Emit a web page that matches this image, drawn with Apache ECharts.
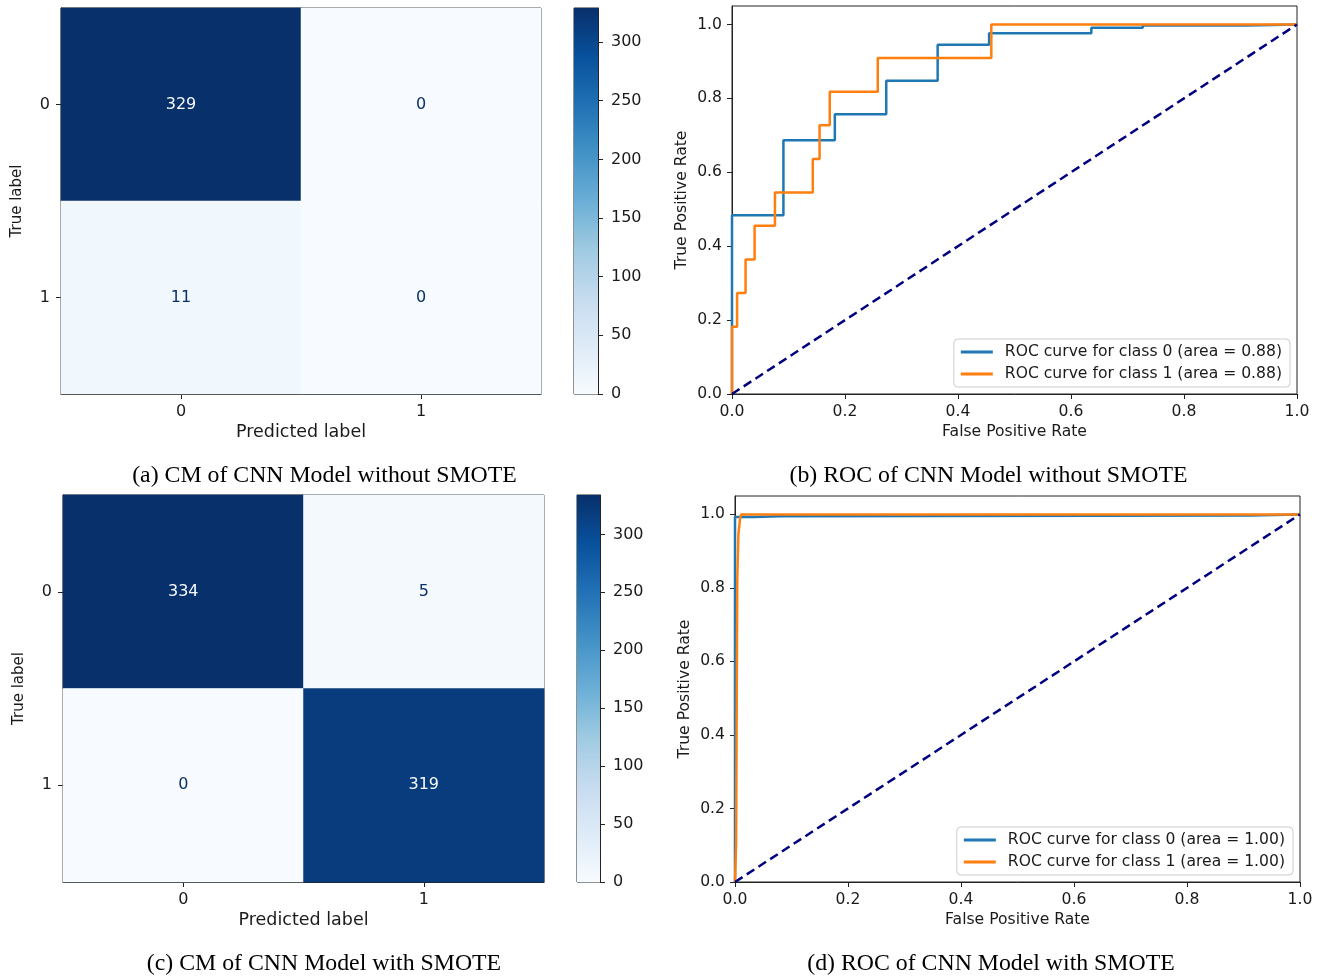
<!DOCTYPE html>
<html><head><meta charset="utf-8">
<script src="https://cdn.jsdelivr.net/npm/echarts@6/dist/echarts.min.js"></script>
<style>html,body{margin:0;padding:0;background:#fff}#c{width:1324px;height:980px}</style>
</head><body><div id="c"></div>
<script>
// ---------- data ----------
const cmLabels = ['0', '1'];
const cmA = [[329, 0], [11, 0]];
const cmC = [[334, 5], [0, 319]];
const cbTicks = [0, 50, 100, 150, 200, 250, 300];
const rocTicks = [0, 0.2, 0.4, 0.6, 0.8, 1.0];

// (b) ROC without SMOTE
const fprB0 = [0, 0, 0.091, 0.091, 0.182, 0.182, 0.273, 0.273, 0.364, 0.364, 0.455, 0.455, 0.636, 0.636, 0.727, 0.727, 0.909, 0.909, 1.0];
const tprB0 = [0, 0.484, 0.484, 0.687, 0.687, 0.757, 0.757, 0.848, 0.848, 0.945, 0.945, 0.976, 0.976, 0.991, 0.991, 0.997, 0.997, 1.0, 1.0];
const fprB1 = [0, 0, 0.009, 0.009, 0.024, 0.024, 0.040, 0.040, 0.076, 0.076, 0.143, 0.143, 0.155, 0.155, 0.173, 0.173, 0.258, 0.258, 0.459, 0.459, 1.0];
const tprB1 = [0, 0.182, 0.182, 0.273, 0.273, 0.364, 0.364, 0.455, 0.455, 0.545, 0.545, 0.636, 0.636, 0.727, 0.727, 0.818, 0.818, 0.909, 0.909, 1.0, 1.0];
// (d) ROC with SMOTE
const fprD0 = [0, 0, 0.034, 0.034, 0.078, 0.078, 0.91, 0.91, 1.0];
const tprD0 = [0, 0.993, 0.993, 0.995, 0.995, 0.997, 0.997, 1.0, 1.0];
const fprD1 = [0, 0.002, 0.002, 0.004, 0.004, 0.006, 0.006, 0.009, 0.009, 0.011, 0.011, 1.0];
const tprD1 = [0, 0, 0.105, 0.105, 0.82, 0.82, 0.945, 0.945, 0.99, 0.99, 1.0, 1.0];
const chance = [0, 1];

const legendB = ['ROC curve for class 0 (area = 0.88)', 'ROC curve for class 1 (area = 0.88)'];
const legendD = ['ROC curve for class 0 (area = 1.00)', 'ROC curve for class 1 (area = 1.00)'];

const captions = ['(a) CM of CNN Model without SMOTE', '(b) ROC of CNN Model without SMOTE',
                  '(c) CM of CNN Model with SMOTE', '(d) ROC of CNN Model with SMOTE'];

const blues = ['#f7fbff', '#deebf7', '#c6dbef', '#9ecae1', '#6baed6', '#4292c6', '#2171b5', '#08519c', '#08306b'];

// ---------- helpers ----------
const FONT = 'DejaVu Sans';
const TXT = '#1a1a1a';
const AX = '#222';

function zip(a, b) { return a.map((v, i) => [v, b[i]]); }
function maxOf(m) { return Math.max(...m.flat()); }
function cmData(m) {
  const mx = maxOf(m), mn = Math.min(...m.flat());
  const out = [];
  m.forEach((row, r) => row.forEach((v, c) => {
    out.push({ value: [c, r, v], label: { color: v > (mx + mn) / 2 ? blues[0] : blues[8] } });
  }));
  return out;
}
const cmTick = { fontFamily: FONT, fontSize: 16, color: TXT };
const cmName = { fontFamily: FONT, fontSize: 17.5, color: TXT };
const cmNameY = { fontFamily: FONT, fontSize: 15, color: TXT };
const rocTxt = { fontFamily: FONT, fontSize: 15.6, color: TXT };
const axisLine = { show: true, lineStyle: { color: AX, width: 1 } };
const axisTick = { show: true, length: 5, lineStyle: { color: AX } };

const grids = [
  { left: 61, top: 8, width: 480, height: 386, show: true, borderColor: AX, borderWidth: 1 },   // a
  { left: 574, top: 8, width: 24, height: 386, show: true, borderColor: AX, borderWidth: 1 },   // a cb
  { left: 63, top: 495, width: 481, height: 387, show: true, borderColor: AX, borderWidth: 1 }, // c
  { left: 577, top: 495, width: 23, height: 387, show: true, borderColor: AX, borderWidth: 1 }, // c cb
  { left: 732, top: 6, width: 565, height: 388, show: true, borderColor: AX, borderWidth: 1 },  // b
  { left: 735, top: 496, width: 565, height: 386, show: true, borderColor: AX, borderWidth: 1 } // d
];

function cmX(gi) {
  return { type: 'category', gridIndex: gi, data: cmLabels, axisLine, axisTick: Object.assign({ alignWithLabel: true }, axisTick),
    axisLabel: Object.assign({ margin: 10 }, cmTick), splitLine: { show: false },
    name: 'Predicted label', nameLocation: 'middle', nameGap: 29, nameTextStyle: cmName };
}
function cmY(gi) {
  return { type: 'category', gridIndex: gi, data: cmLabels, inverse: true, axisLine, axisTick: Object.assign({ alignWithLabel: true }, axisTick),
    axisLabel: Object.assign({ margin: 11 }, cmTick), splitLine: { show: false },
    name: 'True label', nameLocation: 'middle', nameGap: 36, nameTextStyle: cmNameY };
}
function cbX(gi) { return { type: 'category', gridIndex: gi, data: [''], show: false }; }
function cbY(gi, mx) {
  return { type: 'value', gridIndex: gi, min: 0, max: mx, position: 'right', axisLine,
    axisTick: Object.assign({ customValues: cbTicks }, axisTick),
    axisLabel: Object.assign({ margin: 13, customValues: cbTicks }, cmTick), splitLine: { show: false } };
}
function rocX(gi) {
  return { type: 'value', gridIndex: gi, min: 0, max: 1, axisLine: Object.assign({ onZero: false }, axisLine),
    axisTick: Object.assign({ customValues: rocTicks }, axisTick),
    axisLabel: Object.assign({ margin: 10, customValues: rocTicks, formatter: v => v.toFixed(1) }, rocTxt),
    splitLine: { show: false },
    name: 'False Positive Rate', nameLocation: 'middle', nameGap: 30, nameTextStyle: rocTxt };
}
function rocY(gi) {
  return { type: 'value', gridIndex: gi, min: 0, max: 1.05, axisLine: Object.assign({ onZero: false }, axisLine),
    axisTick: Object.assign({ customValues: rocTicks }, axisTick),
    axisLabel: Object.assign({ margin: 10, customValues: rocTicks, formatter: v => v.toFixed(1) }, rocTxt),
    splitLine: { show: false },
    name: 'True Positive Rate', nameLocation: 'middle', nameGap: 42, nameTextStyle: rocTxt };
}
function gradient() {
  return new echarts.graphic.LinearGradient(0, 1, 0, 0, blues.map((c, i) => ({ offset: i / (blues.length - 1), color: c })));
}
function heat(gi, m) {
  return { type: 'heatmap', xAxisIndex: gi, yAxisIndex: gi, data: cmData(m),
    label: { show: true, fontFamily: FONT, fontSize: 16, formatter: p => String(p.value[2]) },
    emphasis: { disabled: true } };
}
function cbar(gi, mx) {
  return { type: 'bar', xAxisIndex: gi, yAxisIndex: gi, data: [mx], barWidth: '100%', silent: true,
    itemStyle: { color: gradient() } };
}
function rocLine(gi, name, xs, ys, color) {
  return { type: 'line', name, xAxisIndex: gi, yAxisIndex: gi, data: zip(xs, ys), symbol: 'none', showSymbol: false,
    lineStyle: { color, width: 2.5 }, itemStyle: { color }, silent: true };
}
function diag(gi) {
  return { type: 'line', name: 'chance', xAxisIndex: gi, yAxisIndex: gi, data: zip(chance, chance), symbol: 'none',
    lineStyle: { color: '#000080', width: 2.5, type: [9, 5] }, silent: true };
}
function legend(names, right, top) {
  return { data: names.map(n => ({ name: n, icon: 'rect' })), orient: 'vertical', right, top,
    itemWidth: 32, itemHeight: 3, itemGap: 6,
    selectedMode: false, backgroundColor: 'rgba(255,255,255,0.85)', borderColor: '#cccccc', borderWidth: 1,
    borderRadius: 4, padding: [5, 8, 5, 7], textStyle: Object.assign({ padding: [0, 0, 0, 7] }, rocTxt) };
}

const option = {
  animation: false,
  backgroundColor: '#fff',
  grid: grids,
  xAxis: [cmX(0), cbX(1), cmX(2), cbX(3), rocX(4), rocX(5)],
  yAxis: [cmY(0), cbY(1, maxOf(cmA)), cmY(2), cbY(3, maxOf(cmC)), rocY(4), rocY(5)],
  visualMap: [
    { type: 'continuous', show: false, seriesIndex: 0, dimension: 2, min: 0, max: maxOf(cmA), inRange: { color: blues } },
    { type: 'continuous', show: false, seriesIndex: 2, dimension: 2, min: 0, max: maxOf(cmC), inRange: { color: blues } }
  ],
  legend: [legend(legendB, 34, 339), legend(legendD, 31, 827)],
  series: [
    heat(0, cmA), cbar(1, maxOf(cmA)), heat(2, cmC), cbar(3, maxOf(cmC)),
    rocLine(4, legendB[0], fprB0, tprB0, '#1f77b4'), rocLine(4, legendB[1], fprB1, tprB1, '#ff7f0e'), diag(4),
    rocLine(5, legendD[0], fprD0, tprD0, '#1f77b4'), rocLine(5, legendD[1], fprD1, tprD1, '#ff7f0e'), diag(5)
  ],
  graphic: [
    [324.5, 476], [988.5, 476], [324, 964], [991, 964]
  ].map((p, i) => ({ type: 'text', x: p[0], y: p[1], silent: true,
    style: { text: captions[i], align: 'center', verticalAlign: 'middle', font: '23.8px "Liberation Serif"', fill: '#000' } }))
};

const chart = echarts.init(document.getElementById('c'), null, { renderer: 'canvas' });
chart.setOption(option);
</script>
</body></html>
